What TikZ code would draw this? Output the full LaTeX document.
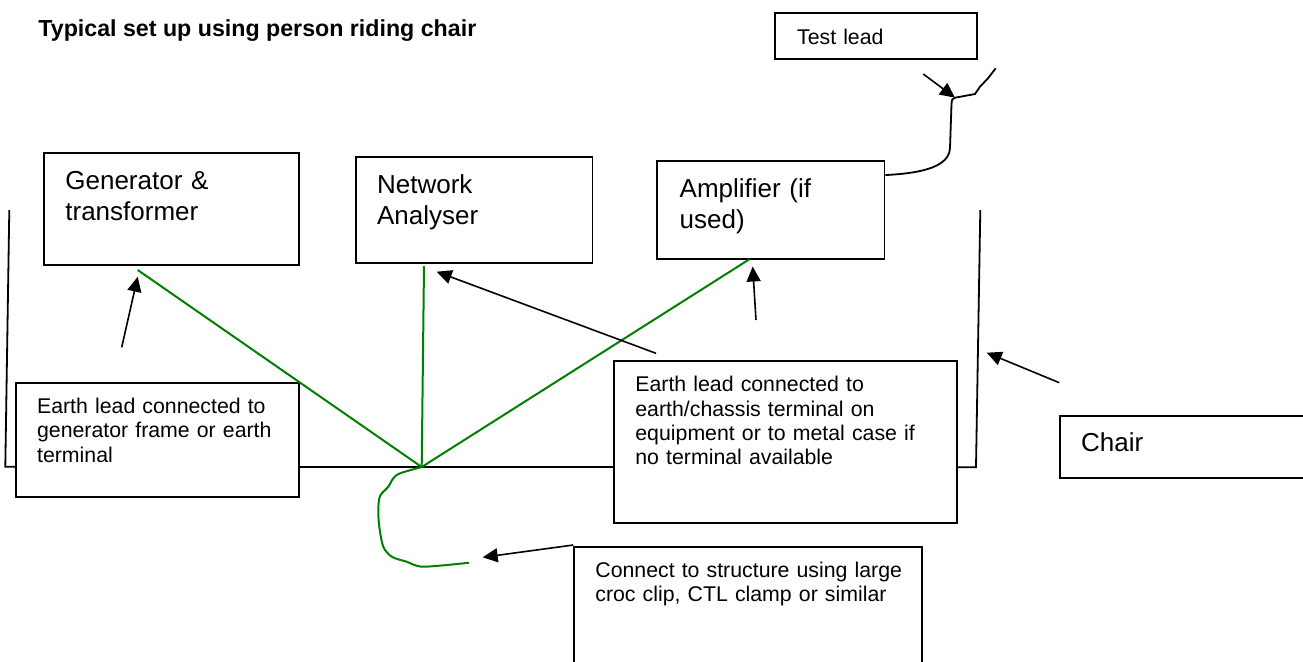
\documentclass[tikz,border=0pt]{standalone}
\usepackage{fontspec}
\setmainfont{Liberation Sans}
\usetikzlibrary{arrows.meta}
\definecolor{leadgreen}{RGB}{0,128,0}

\begin{document}
\begin{tikzpicture}
	[
		x=0.5pt, y=-0.5pt,
		B/.style = {rectangle, draw, line width=0.9pt, fill=none, inner sep=0pt},
		BT/.style = {align=left, text width=170pt, anchor=base west, inner sep=0pt, font=\fontsize{13}{15.35}\selectfont},
		ST/.style = {align=left, text width=170pt, anchor=base west, inner sep=0pt, font=\fontsize{10.65}{12.2}\selectfont},
		A/.style = {line width=0.8pt, -{Triangle[length=7.5pt, width=7pt]}},
		G/.style = {leadgreen, line width=1pt},
		W/.style = {line width=0.9pt},
	]
	\useasboundingbox (0,0) rectangle (1303,661);

	% title
	\node[anchor=base west, inner sep=0pt, font=\fontsize{11.6}{14}\selectfont\bfseries] (title) at (38,36) {Typical set up using person riding chair};

	% boxes
	\node[B, minimum width=101.15pt, minimum height=23.15pt] (tl)  at ( 876.15, 35.85 ) {};
	\node[B, minimum width=127.35pt, minimum height=56pt]    (gen) at ( 171.7, 209.3 ) {};
	\node[B, minimum width=118.25pt, minimum height=53pt]    (net) at ( 474.25, 209.7 ) {};
	\node[B, minimum width=113.6pt, minimum height=49.15pt]  (amp) at ( 770.9, 209.85 ) {};
	\node[B, minimum width=141.5pt, minimum height=57pt]     (e1)  at ( 157.5, 439.7 ) {};
	\node[B, minimum width=171.35pt, minimum height=81.3pt]  (e2)  at ( 785.35, 442.0 ) {};
	\node[B, minimum width=130pt, minimum height=30.85pt]    (ch)  at ( 1190.0, 446.85 ) {};
	\node[B, minimum width=174pt, minimum height=71.65pt]    (cc)  at ( 748.3, 618.35 ) {};

	% box texts
	\node[ST] (tl-t)  at ( 796.7, 44.0 ) {Test lead};
	\node[BT] (gen-t) at ( 65.0, 189.3 ) {Generator \&\\transformer};
	\node[BT] (net-t) at ( 376.7, 193.3 ) {Network\\Analyser};
	\node[BT] (amp-t) at ( 679.3, 197.3 ) {Amplifier (if\\used)};
	\node[ST] (e1-t)  at ( 36.7, 413.3 ) {Earth lead connected to\\generator frame or earth\\terminal};
	\node[ST] (e2-t)  at ( 635.0, 391.7 ) {Earth lead connected to\\earth/chassis terminal on\\equipment or to metal case if\\no terminal available};
	\node[BT] (ch-t)  at ( 1080.7, 451.7 ) {Chair};
	\node[ST] (cc-t)  at ( 595.0, 577.3 ) {Connect to structure using large\\croc clip, CTL clamp or similar};

	% chair frame
	\coordinate (cl1) at ( 9.3, 210.0 );
	\coordinate (cl2) at ( 5.3, 466.7 );
	\coordinate (cr1) at ( 980.3, 210.0 );
	\coordinate (cr2) at ( 976.0, 467.3 );
	\coordinate (jn)  at ( 421.7, 467.0 );
	\draw[W] (cl1) -- (cl2) -- (cl2 -| e1.west);
	\draw[W] (e1.east |- jn) -- (e2.west |- jn);
	\draw[W] (e2.east |- cr2) -- (cr2) -- (cr1);

	% earth leads
	\coordinate (gen-lug) at ( 137.7, 270.0 );
	\coordinate (net-lug) at ( 424.0, 266.0 );
	\coordinate (amp-lug) at ( 749.3, 259.3 );
	\coordinate (clip)    at ( 469.0, 562.7 );
	\foreach \to in {gen-lug,net-lug,amp-lug}
	\draw[G] (jn) -- (\to);
	\draw[G] plot[smooth, tension=0.5] coordinates {(jn) (400,473.3) (393.3,478.3) (388.3,486.7) (380,496) (378.3,510) (379.3,526.7) (383.3,546.7) (391.7,556.7) (406.7,561.7) (423.3,566.7) (clip)};

	% test lead wire
	\coordinate (kink) at ( 955.0, 97.7 );
	\coordinate (tip)  at ( 995.7, 68.3 );
	\draw[W] ([yshift=17.4pt]amp.east) .. controls (925,173) and (949,166) .. (950,148) -- (951.5,104) .. controls (952,99) .. (kink) -- (975,94) -- (980,86.7) -- (988,78.3) -- (tip);

	% pointers
	\coordinate (p1) at ( 121.7, 347.3 );	\coordinate (q1) at ( 137.7, 276.7 );
	\coordinate (p2) at ( 656.0, 353.3 );	\coordinate (q2) at ( 436.7, 271.7 );
	\coordinate (p3) at ( 756.0, 320.0 );	\coordinate (q3) at ( 752.7, 266.5 );
	\coordinate (p4) at ( 1059.3, 382.7 );	\coordinate (q4) at ( 986.7, 352.7 );
	\coordinate (p5) at ( 573.3, 545.0 );	\coordinate (q5) at ( 482.7, 557.3 );
	\coordinate (p6) at ( 923.3, 74.0 );	\coordinate (q6) at ( 955.0, 97.7 );
	\foreach \from/\to in {p1/q1,p2/q2,p3/q3,p4/q4,p5/q5,p6/q6}
	\draw[A] (\from) -- (\to);

\end{tikzpicture}
\end{document}
